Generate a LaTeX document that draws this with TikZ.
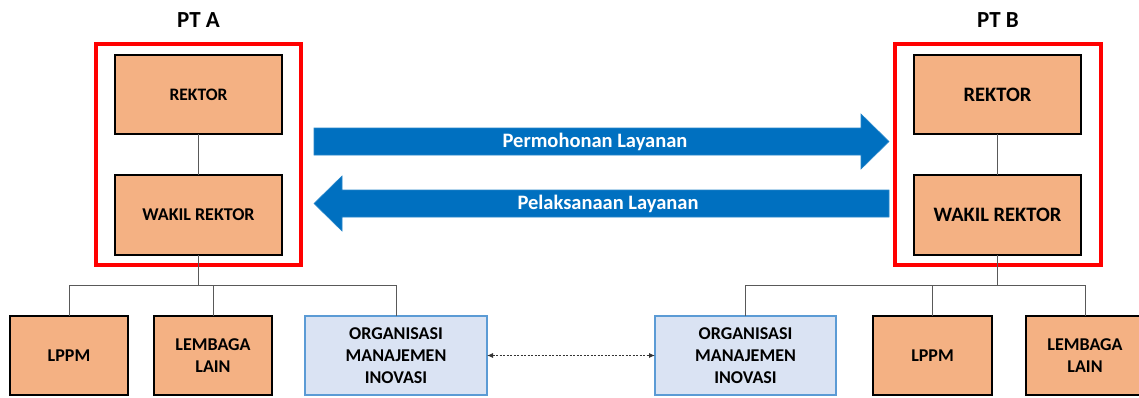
\documentclass[tikz,border=0pt]{standalone}
\usepackage{fontspec}
\setmainfont{Carlito}
\usetikzlibrary{arrows.meta}
\definecolor{boxorange}{HTML}{F4B183}
\definecolor{boxblue}{HTML}{DAE3F3}
\definecolor{boxblueline}{HTML}{5B9BD5}
\definecolor{arrowblue}{HTML}{0070C0}
\definecolor{linkgray}{HTML}{595959}
\definecolor{framered}{HTML}{FF0000}
\tikzset{
  unitbox/.style={draw=black, line width=1.3pt, fill=boxorange, outer sep=0pt,
    align=center, font=\bfseries\fontsize{18}{22}\selectfont, inner sep=2pt},
  orgbox/.style={draw=boxblueline, line width=1.3pt, fill=boxblue, outer sep=0pt,
    align=center, font=\bfseries\fontsize{18}{22}\selectfont, inner sep=2pt},
  redframe/.style={draw=framered, line width=3.5pt},
  link/.style={draw=linkgray, line width=1pt},
  flowarrow/.style={fill=arrowblue, draw=arrowblue!85!white, line width=0.6pt},
  flowlabel/.style={text=white, font=\bfseries\fontsize{20.5}{24}\selectfont},
  title/.style={font=\bfseries\fontsize{23}{27}\selectfont}
}
\begin{document}
\begin{tikzpicture}[x=1pt, y=-1pt]
\clip (0,0) rectangle (1139,397);
\useasboundingbox (0,0) rectangle (1139,397);

% ---- PT A ----
\node[title] (ptA) at (198.5,20) {PT A};
\draw[redframe] (96,44) rectangle (301,265);
\node[unitbox, minimum width=167pt, minimum height=79pt,
      font=\bfseries\fontsize{17.5}{21}\selectfont] (rektorA) at (198.5,94.5) {REKTOR};
\node[unitbox, minimum width=167pt, minimum height=80pt] (wakilA) at (198.5,215) {WAKIL REKTOR};
\node[unitbox, minimum width=118pt, minimum height=79pt] (lppmA) at (69,355.5) {LPPM};
\node[unitbox, minimum width=118pt, minimum height=79pt] (lembA) at (213,355.5) {LEMBAGA\\LAIN};
\node[orgbox, minimum width=182pt, minimum height=79pt] (orgA) at (396,355.5) {ORGANISASI\\MANAJEMEN\\INOVASI};

\coordinate (busA) at (198.5,285);
\draw[link] (rektorA.south) -- (wakilA.south |- wakilA.north);
\draw[link] (wakilA.south) -- (busA);
\draw[link] (busA) -| (lppmA.north);
\draw[link] (busA) -| (lembA.north);
\draw[link] (busA) -| (orgA.north);

% ---- PT B ----
\node[title] (ptB) at (998,20) {PT B};
\draw[redframe] (895,44) rectangle (1101,265);
\node[unitbox, minimum width=167pt, minimum height=79pt,
      font=\bfseries\fontsize{20.5}{24}\selectfont] (rektorB) at (997.5,94.5) {REKTOR};
\node[unitbox, minimum width=167pt, minimum height=80pt,
      font=\bfseries\fontsize{20.5}{24}\selectfont] (wakilB) at (997.5,215) {WAKIL REKTOR};
\node[orgbox, minimum width=181pt, minimum height=79pt] (orgB) at (745.5,355.5) {ORGANISASI\\MANAJEMEN\\INOVASI};
\node[unitbox, minimum width=119pt, minimum height=79pt] (lppmB) at (932.5,355.5) {LPPM};
\node[unitbox, minimum width=118pt, minimum height=79pt] (lembB) at (1085,355.5) {LEMBAGA\\LAIN};

\coordinate (busB) at (997.5,285);
\draw[link] (rektorB.south) -- (wakilB.north);
\draw[link] (wakilB.south) -- (busB);
\draw[link] (busB) -| (orgB.north);
\draw[link] (busB) -| (lppmB.north);
\draw[link] (busB) -| (lembB.north);

% ---- service flow arrows ----
\draw[flowarrow] (314,128) -- (861,128) -- (861,114) -- (889,141.5)
  -- (861,169) -- (861,155) -- (314,155) -- cycle;
\node[flowlabel] (reqlabel) at (595,141.5) {Permohonan Layanan};

\draw[flowarrow] (889,190) -- (342,190) -- (342,176) -- (314,203.5)
  -- (342,231) -- (342,217) -- (889,217) -- cycle;
\node[flowlabel] (execlabel) at (608,203.5) {Pelaksanaan Layanan};

% ---- link between innovation units ----
\draw[draw=black!80, line width=0.9pt, dash pattern=on 2pt off 1.5pt,
      {Latex[length=6pt,width=5pt]}-{Latex[length=6pt,width=5pt]}]
  (orgA.east) -- (orgB.west);
\end{tikzpicture}
\end{document}
